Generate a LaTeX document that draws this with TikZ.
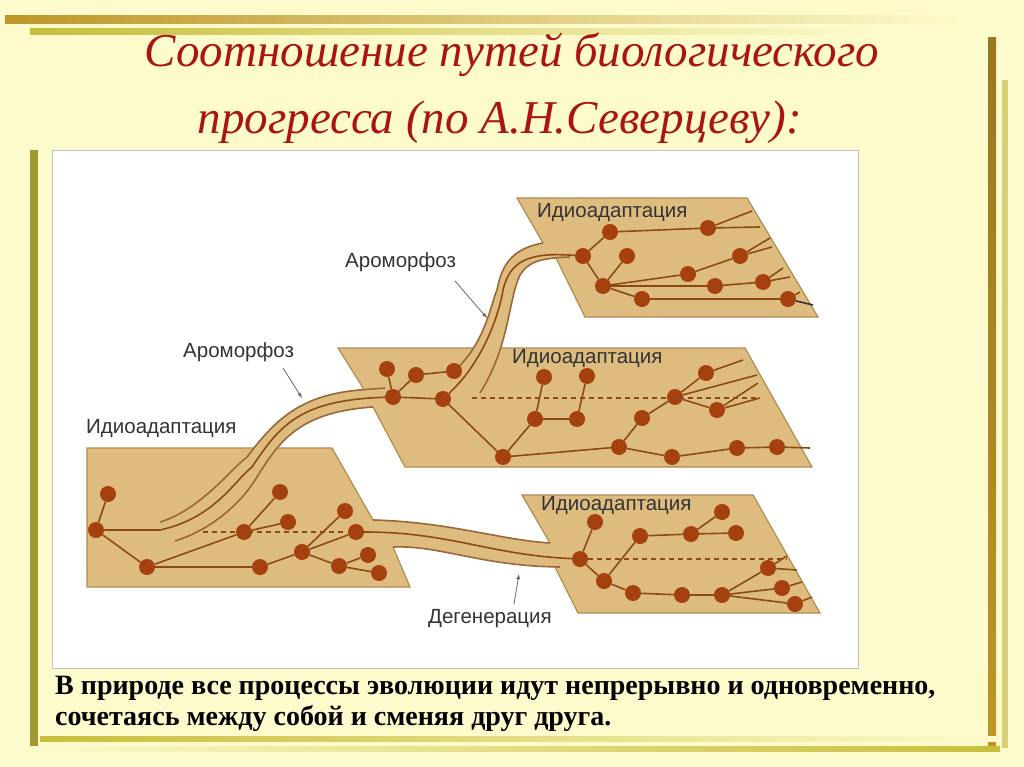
\documentclass[tikz,border=0pt]{standalone}
\usepackage{fontspec}
\setmainfont{Liberation Serif}
\newfontfamily\lab{Liberation Sans}
\begin{document}
\begin{tikzpicture}[x=1pt,y=-1pt,
  plane/.style={fill=tanc,draw=tand,line width=1.2pt,line join=miter},
  br/.style={draw=brl,line width=1.6pt},
  edge/.style={draw=brl!85,line width=1.6pt},
  dot/.style={circle,fill=nodec,inner sep=0pt,minimum size=16pt},
  dsh/.style={draw=brl,line width=1.2pt,dash pattern=on 5pt off 4pt},
  lbl/.style={font=\lab\fontsize{20.5}{22}\selectfont,text=black!80,anchor=west,inner sep=0pt},
  arr/.style={draw=black!60,line width=0.8pt,-latex}]
\definecolor{bg}{RGB}{253,251,203}
\definecolor{tanc}{RGB}{222,188,128}
\definecolor{tand}{RGB}{176,140,80}
\definecolor{brl}{RGB}{140,75,20}
\definecolor{nodec}{RGB}{165,65,15}
\definecolor{titc}{RGB}{170,20,20}
\definecolor{gold}{RGB}{190,150,40}
\definecolor{olive}{RGB}{200,190,60}
\useasboundingbox (0,0) rectangle (1024,767);
\fill[bg] (0,0) rectangle (1024,767);
% decorative bars
\shade[left color=gold,right color=bg] (5,16) rectangle (960,24);
\shade[left color=olive,right color=bg] (30,29) rectangle (880,35);
\shade[top color=gold!80!black,bottom color=gold] (988,38) rectangle (996,745);
\fill[olive!70] (1002,80) rectangle (1008,748);
\fill[olive!80!black] (30,150) rectangle (38,752);
\shade[left color=olive,right color=bg] (40,736) rectangle (1000,741);
\shade[left color=bg,right color=olive] (20,746) rectangle (1000,751);
% title
\node[font=\itshape\fontsize{47}{50}\selectfont,text=titc] (t1) at (512,55) {Соотношение путей биологического};
\node[font=\itshape\fontsize{47}{50}\selectfont,text=titc] (t2) at (500,122) {прогресса (по  А.Н.Северцеву):};
% image box
\fill[white,draw=black!25] (52,150) rectangle (858,668);
% bottom text
\node[font=\bfseries\fontsize{28}{31}\selectfont,anchor=north west,align=left,inner sep=0pt] (bt) at (55,676) {В природе все процессы эволюции идут непрерывно и одновременно,\\сочетаясь между собой и сменяя друг друга.};

% planes
\path[plane] (87,448) -- (332,448) -- (373,520) -- (393,547) -- (410,587) -- (87,587) -- cycle;
\path[plane] (522,495) -- (753,495) -- (820,613) -- (578,613) -- (555,567) -- (550,543) -- cycle;
\path[plane] (338,348) -- (745,348) -- (812,467) -- (405,467) -- (373,407) -- (360,383) -- cycle;
\path[plane] (517,198) -- (747,198) -- (818,317) -- (585,317) -- (555,256) -- (543,243) -- cycle;
% tube fills
\fill[tanc] (365,519) .. controls (450,522) and (500,540) .. (565,544) -- (575,567)
  .. controls (480,566) and (440,545) .. (385,547) -- cycle;
\fill[tanc] (160,522) .. controls (200,510) and (230,470) .. (247,457) .. controls (275,420) and (300,395) .. (360,390) -- (395,388)
  -- (395,407) -- (373,407) .. controls (300,412) and (280,440) .. (257,477) .. controls (240,505) and (210,530) .. (175,541) -- cycle;
\fill[tanc] (454,371) .. controls (485,345) and (492,300) .. (497,290) .. controls (502,262) and (515,248) .. (543,243) -- (560,243)
  -- (570,257) .. controls (540,258) and (528,262) .. (520,275) .. controls (508,300) and (510,345) .. (480,393) -- cycle;
% tube edges
\draw[edge] (160,522) .. controls (200,510) and (230,470) .. (247,457) .. controls (275,420) and (300,395) .. (360,390) -- (385,388);
\draw[edge] (175,541) .. controls (210,530) and (240,505) .. (257,477) .. controls (280,440) and (300,412) .. (373,407);
\draw[edge] (454,371) .. controls (485,345) and (492,300) .. (497,290) .. controls (502,262) and (515,248) .. (543,243);
\draw[edge] (480,393) .. controls (510,345) and (508,300) .. (520,275) .. controls (528,262) and (540,258) .. (570,257);
\draw[edge] (373,520) .. controls (450,522) and (500,540) .. (550,543);
\draw[edge] (393,547) .. controls (440,545) and (480,566) .. (560,567);

% nodes shape1
\foreach \n/\x/\y in {a/96/530,b/108/494,c/147/567,d/244/532,e/280/492,f/288/522,g/260/567,h/302/552,i/345/511,j/356/532,k/368/555,l/339/566,m/379/573}
  \node[dot] (\n) at (\x,\y) {};
% shape3
\foreach \n/\x/\y in {n1/580/559,n2/595/522,n3/640/536,n4/691/534,n5/722/512,n6/736/533,n7/604/581,n8/633/593,n9/682/595,n10/722/595,n11/768/568,n12/782/588,n13/795/604}
  \node[dot] (\n) at (\x,\y) {};
% shape2
\foreach \n/\x/\y in {p1/387/369,p2/416/375,p3/454/371,p4/393/397,p5/443/399,p6/544/377,p7/587/376,p8/535/419,p9/577/419,p10/503/457,p11/619/447,p12/672/457,p13/737/448,p14/777/447,p15/642/418,p16/675/397,p17/706/373,p18/717/410}
  \node[dot] (\n) at (\x,\y) {};
% shape4
\foreach \n/\x/\y in {q1/583/256,q2/610/232,q3/708/228,q4/627/256,q5/603/286,q6/642/299,q7/688/274,q8/715/286,q9/740/256,q10/763/282,q11/788/299}
  \node[dot] (\n) at (\x,\y) {};
% free end coordinates
\foreach \n/\x/\y in {f1/787/556,f2/797/570,f3/802/582,f4/812/597,f5/787/559,
  g1/810/448,g2/743/360,g3/757/375,g4/758/383,g5/760/398,g6/472/398,g7/758/398,g8/203/532,g9/343/532,
  h1/752/211,h2/760/227,h3/770/238,h4/772/247,h5/783/268,h6/790/277,h7/800/292,h8/813/305}
  \coordinate (\n) at (\x,\y);

% edges shape1
\draw[dsh] (g8) -- (g9);
\draw[br] (a) -- (b) (a) -- (c) (c) -- (d) (d) -- (e) (d) -- (f) (c) -- (g) (g) -- (h)
  (h) -- (i) (h) -- (j) (h) -- (l) (l) -- (k) (l) -- (m);
\draw[br] (a) -- (160,530) .. controls (215,518) and (235,480) .. (252,467) .. controls (280,425) and (300,400) .. (p4);
\draw[br] (j) .. controls (450,532) and (490,555) .. (n1);
% shape3
\draw[dsh] (n1) -- (f5);
\draw[br] (n1) -- (n2) (n1) -- (n7) (n7) -- (n3) (n3) -- (n4) (n4) -- (n5) (n4) -- (n6) (n7) -- (n8)
  (n8) -- (n9) (n9) -- (n10) (n10) -- (n11) (n10) -- (n12) (n10) -- (n13) (n11) -- (f1) (n11) -- (f2)
  (n12) -- (f3) (n13) -- (f4);
% shape2
\draw[dsh] (g6) -- (g7);
\draw[br] (p4) -- (p1) (p4) -- (p2) (p2) -- (p3) (p4) -- (p5) (p5) -- (p10) (p10) -- (p8) (p8) -- (p6)
  (p8) -- (p9) (p9) -- (p7) (p10) -- (p11) (p11) -- (p12) (p12) -- (p13) (p13) -- (p14) (p14) -- (g1)
  (p11) -- (p15) (p15) -- (p16) (p16) -- (p17) (p16) -- (p18) (p17) -- (g2) (p16) -- (g3) (p18) -- (g4) (p18) -- (g5);
\draw[br] (p5) .. controls (485,360) and (500,310) .. (503,290) .. controls (510,260) and (530,252) .. (q1);
% shape4
\draw[br] (q1) -- (q2) (q2) -- (q3) (q3) -- (h1) (q3) -- (h2) (q1) -- (q5) (q5) -- (q4) (q5) -- (q7)
  (q7) -- (q9) (q9) -- (h3) (q9) -- (h4) (q5) -- (q8) (q8) -- (q10) (q10) -- (h5) (q10) -- (h6)
  (q5) -- (q6) (q6) -- (q11) (q11) -- (h7);
\draw[line width=1.6pt,black!80] (q11) -- (h8);
% labels
\node[lbl] (l1) at (345,262) {Ароморфоз};
\node[lbl] (l2) at (183,352) {Ароморфоз};
\node[lbl] (l3) at (86,428) {Идиоадаптация};
\node[lbl] (l4) at (537,212) {Идиоадаптация};
\node[lbl] (l5) at (512,358) {Идиоадаптация};
\node[lbl] (l6) at (541,505) {Идиоадаптация};
\node[lbl] (l7) at (428,619) {Дегенерация};
\coordinate (a1) at (487,318); \coordinate (a2) at (302,398); \coordinate (a3) at (519,574);
\draw[arr] (455,281) -- (a1);
\draw[arr] (283,368) -- (a2);
\draw[arr] (514,604) -- (a3);
\end{tikzpicture}
\end{document}
